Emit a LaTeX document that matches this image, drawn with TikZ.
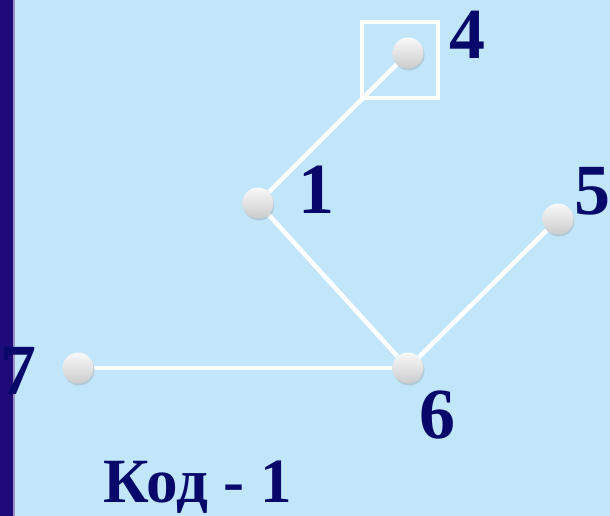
\documentclass[tikz,border=0pt]{standalone}
\usepackage{fontspec}
\setmainfont{Liberation Serif}
\usetikzlibrary{shadows,backgrounds}
\definecolor{bg}{RGB}{193,229,249}
\definecolor{navy}{RGB}{8,8,106}
\definecolor{barblue}{RGB}{30,10,120}

\begin{document}
\begin{tikzpicture}[x=1pt, y=-1pt,
  vert/.style={circle, minimum size=31pt, inner sep=0pt, top color=gray!5, bottom color=gray!40,
    drop shadow={shadow xshift=1pt, shadow yshift=-2pt, opacity=0.25}},
  edge/.style={draw=white, line width=4.5pt},
  num/.style={font=\fontsize{72}{72}\selectfont\bfseries, text=navy, inner sep=0pt},
  selbox/.style={draw=white, line width=4pt, minimum size=76pt, inner sep=0pt}
]
\useasboundingbox (0,0) rectangle (610,516);

% graph vertices
\node[vert] (v4) at (408,53) {};
\node[vert] (v1) at (258,203) {};
\node[vert] (v5) at (558,219) {};
\node[vert] (v6) at (408,368) {};
\node[vert] (v7) at (78,368) {};

\node[selbox] (sel) at (400,60) {};

\begin{scope}[on background layer]
  \fill[bg] (0,0) rectangle (610,516);
  \fill[barblue] (0,0) rectangle (13,516);
  \draw[color=barblue!45, line width=2pt] (14,0) -- (14,516);
  \draw[edge] (v1) -- (v4);
  \draw[edge] (v1) -- (v6);
  \draw[edge] (v5) -- (v6);
  \draw[edge] (v7) -- (v6);
\end{scope}

% labels
\node[num] (n4) at (467,35) {4};
\node[num] (n1) at (316,190) {1};
\node[num] (n5) at (592,191) {5};
\node[num] (n6) at (437,415) {6};
\node[num] (n7) at (18,371) {7};
\node[num, font=\fontsize{63}{63}\selectfont\bfseries, anchor=base] (code) at (198,502) {Код - 1};
\end{tikzpicture}
\end{document}
